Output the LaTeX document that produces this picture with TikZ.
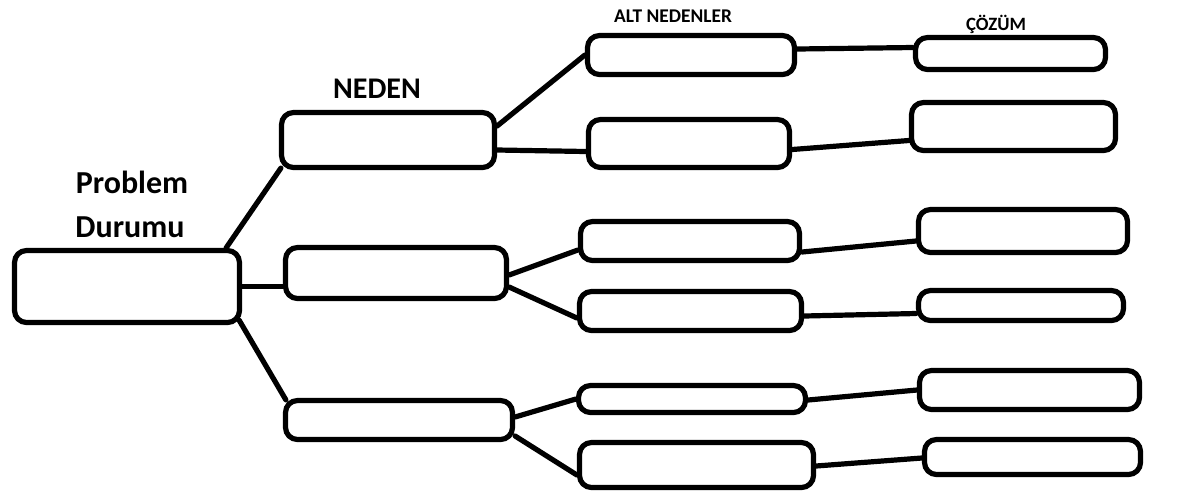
\documentclass[tikz,border=0pt]{standalone}
\usepackage{fontspec}
\setmainfont{Carlito}
\usepackage{tikz}

\begin{document}
\begin{tikzpicture}[x=0.5pt, y=-0.5pt,
  box/.style={draw=black, line width=2.6pt, rounded corners=6pt, inner sep=0pt},
  link/.style={draw=black, line width=2.6pt, line cap=round},
  head/.style={anchor=base, inner sep=0pt, font=\bfseries}]
  \useasboundingbox (0,0) rectangle (1180,495);

  \node[head, font=\fontsize{16}{20}\selectfont\bfseries] (problem) at (132,193) {Problem};
  \node[head, font=\fontsize{16}{20}\selectfont\bfseries] (durumu) at (130,237) {Durumu};
  \node[head, font=\fontsize{15}{16}\selectfont\bfseries] (neden) at (377,98) {NEDEN};
  \node[head, font=\fontsize{9.7}{12}\selectfont\bfseries] (altneden) at (673,22) {ALT NEDENLER};
  \node[head, font=\fontsize{9.4}{12}\selectfont\bfseries] (cozum) at (996,30) {ÇÖZÜM};

  \node[box, minimum width=112.5pt, minimum height=36pt] (root) at (127,286.5) {};

  \node[box, minimum width=106.5pt, minimum height=27.5pt] (n1) at (388,140) {};
  \node[box, minimum width=110.5pt, minimum height=25.5pt] (n2) at (396,273) {};
  \node[box, minimum width=113.5pt, minimum height=19.5pt] (n3) at (399,420) {};

  \node[box, minimum width=103.5pt, minimum height=19.5pt] (a1) at (691,55) {};
  \node[box, minimum width=100.5pt, minimum height=24pt] (a2) at (689,143.5) {};
  \node[box, minimum width=109.5pt, minimum height=19.5pt] (a3) at (690,241) {};
  \node[box, minimum width=111pt, minimum height=19.5pt] (a4) at (690.5,311) {};
  \node[box, minimum width=113.5pt, minimum height=13.5pt] (a5) at (692,399) {};
  \node[box, minimum width=117pt, minimum height=22.5pt] (a6) at (696.5,465) {};

  \node[box, minimum width=95pt, minimum height=16pt] (c1) at (1010.5,53.5) {};
  \node[box, minimum width=102pt, minimum height=24pt] (c2) at (1013.5,126.5) {};
  \node[box, minimum width=104.5pt, minimum height=21.5pt] (c3) at (1023,231) {};
  \node[box, minimum width=102.5pt, minimum height=15pt] (c4) at (1021,305.5) {};
  \node[box, minimum width=110pt, minimum height=19.5pt] (c5) at (1029.5,390) {};
  \node[box, minimum width=108pt, minimum height=17.5pt] (c6) at (1032.5,457) {};

  \draw[link] ([xshift=-8pt]root.north east) -- ([xshift=1pt,yshift=1pt]n1.south west);
  \draw[link] (root.east) -- (n2.west |- root.east);
  \draw[link] ([xshift=-1.5pt,yshift=2.5pt]root.south east) -- ([xshift=1.5pt,yshift=-1pt]n3.north west);

  \draw[link] ([yshift=7pt]n1.east) -- (a1.west);
  \draw[link] ([yshift=-5pt]n1.east) -- ([yshift=-4pt]a2.west);
  \draw[link] ([yshift=-1pt]n2.east) -- ([yshift=-4.5pt]a3.west);
  \draw[link] ([yshift=-7pt]n2.east) -- ([yshift=-3.5pt]a4.west);
  \draw[link] ([yshift=1.5pt]n3.east) -- (a5.west);
  \draw[link] ([yshift=-8pt]n3.east) -- ([yshift=-5pt]a6.west);

  \draw[link] ([yshift=3pt]a1.east) -- ([yshift=3pt]c1.west);
  \draw[link] ([yshift=-3pt]a2.east) -- ([yshift=-7pt]c2.west);
  \draw[link] ([yshift=-5.5pt]a3.east) -- ([yshift=-5pt]c3.west);
  \draw[link] ([yshift=-2.5pt]a4.east) -- ([yshift=-4pt]c4.west);
  \draw[link] ([yshift=-0.5pt]a5.east) -- (c5.west);
  \draw[link] ([yshift=-0.5pt]a6.east) -- ([yshift=-0.5pt]c6.west);
\end{tikzpicture}
\end{document}
